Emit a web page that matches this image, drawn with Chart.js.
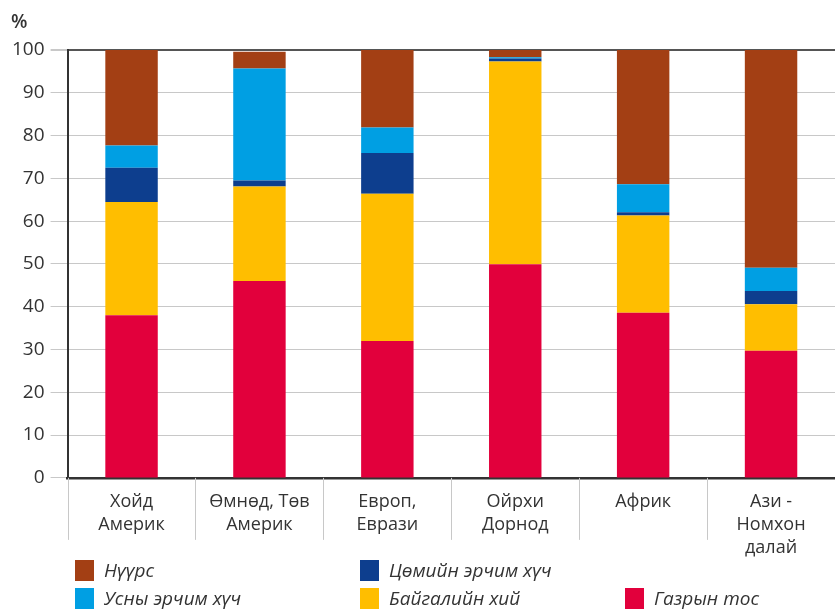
<!DOCTYPE html>
<html>
<head>
<meta charset="utf-8">
<script src="https://cdn.jsdelivr.net/npm/chart.js@4"></script>
<style>
  body { margin: 0; background: #fff; }
  #wrap { position: relative; width: 835px; height: 610px; font-family: "Open Sans", sans-serif; color: #333; }
  #unit { position: absolute; left: 11px; top: 8px; font-size: 19px; font-weight: 600; }
  .leg { position: absolute; display: flex; align-items: center; font-size: 19px; font-style: italic; }
  .leg span.box { display: inline-block; width: 19px; height: 21px; margin-right: 10px; }
</style>
</head>
<body>
<div id="wrap">
  <canvas id="energyChart" width="835" height="610"></canvas>
  <div id="unit">%</div>
</div>
<script>
// regions (multi-line tick labels)
const regions = [
    ['Хойд', 'Америк'],
    ['Өмнөд, Төв', 'Америк'],
    ['Европ,', 'Еврази'],
    ['Ойрхи', 'Дорнод'],
    ['Африк'],
    ['Ази -', 'Номхон', 'далай']
]

// shares, %, bottom to top
const oil     = [38.0, 46.0, 32.0, 49.9, 38.6, 29.7]
const gas     = [26.5, 22.1, 34.4, 47.4, 22.7, 10.9]
const nuclear = [8.0, 1.4, 9.5, 0.7, 0.8, 3.1]
const hydro   = [5.2, 26.2, 6.0, 0.3, 6.5, 5.4]
const coal    = [22.3, 3.9, 18.1, 1.7, 31.4, 50.9]

const seriesNames  = ['Газрын тос', 'Байгалийн хий', 'Цөмийн эрчим хүч', 'Усны эрчим хүч', 'Нүүрс']
const seriesColors = ['#e2003c', '#ffbe00', '#0d3e8e', '#009fe3', '#a33f14']
const yTicks = [0, 10, 20, 30, 40, 50, 60, 70, 80, 90, 100]

// vertical separators under the x axis, between the categories
const categoryDividers = {
    id: 'categoryDividers',
    afterDraw(chart) {
        const x = chart.scales.x
        const c = chart.ctx
        const half = (x.getPixelForValue(1) - x.getPixelForValue(0)) / 2
        const top = chart.chartArea.bottom
        c.save()
        c.strokeStyle = '#c8c8c8'
        c.lineWidth = 1
        for (let i = 0; i < regions.length; i++) {
            const px = Math.round(x.getPixelForValue(i) - half) + 0.5
            c.beginPath()
            c.moveTo(px, top)
            c.lineTo(px, top + 62)
            c.stroke()
        }
        c.restore()
    }
}

document.addEventListener('DOMContentLoaded', function () {
    const values = [oil, gas, nuclear, hydro, coal]

    const ctx = document.getElementById('energyChart').getContext('2d')
    const chart = new Chart(ctx, {
        type: 'bar',
        data: {
            labels: regions,
            datasets: values.map((v, i) => ({
                label: seriesNames[i],
                data: v,
                backgroundColor: seriesColors[i],
                borderWidth: 0,
                categoryPercentage: 1,
                barPercentage: 0.41
            }))
        },
        plugins: [categoryDividers],
        options: {
            responsive: false,
            animation: false,
            layout: { padding: { top: 50, right: 0, left: 6, bottom: 47 } },
            plugins: {
                legend: { display: false },
                tooltip: { enabled: false }
            },
            scales: {
                x: {
                    stacked: true,
                    grid: { display: false },
                    border: { display: true, color: '#333', width: 2.5 },
                    ticks: {
                        padding: 4,
                        color: '#333',
                        font: { family: 'Open Sans', size: 18, lineHeight: 1.28 },
                        maxRotation: 0
                    }
                },
                y: {
                    stacked: true,
                    min: 0,
                    max: 100,
                    afterBuildTicks: (axis) => { axis.ticks = yTicks.map(v => ({ value: v })) },
                    grid: {
                        color: (c) => c.tick && c.tick.value === 100 ? '#555' : '#c8c8c8',
                        tickColor: '#c8c8c8',
                        tickLength: 17,
                        lineWidth: (c) => c.tick && c.tick.value === 100 ? 2 : 1
                    },
                    border: { color: '#333', width: 2 },
                    ticks: {
                        padding: 6,
                        color: '#333',
                        font: { family: 'Open Sans', size: 19 }
                    }
                }
            }
        }
    })

    // legend, built from the series names/colours
    const slots = { 'Нүүрс': [75, 557], 'Цөмийн эрчим хүч': [360, 557], 'Усны эрчим хүч': [75, 585],
                    'Байгалийн хий': [360, 585], 'Газрын тос': [625, 585] }
    const wrap = document.getElementById('wrap')
    seriesNames.forEach((name, i) => {
        const d = document.createElement('div')
        d.className = 'leg'
        d.style.left = slots[name][0] + 'px'
        d.style.top = slots[name][1] + 'px'
        d.innerHTML = '<span class="box" style="background:' + seriesColors[i] + '"></span>' + name
        wrap.appendChild(d)
    })
})
</script>
</body>
</html>
